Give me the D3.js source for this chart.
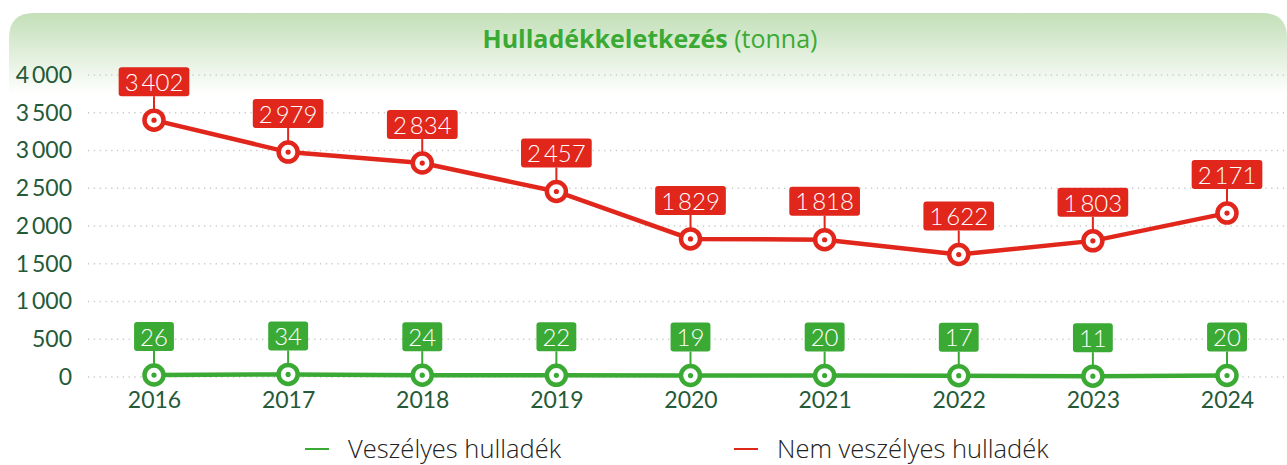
<!DOCTYPE html>
<html lang="hu">
<head>
  <meta charset="UTF-8">
  <title>Hulladékkeletkezés</title>
  <script src="https://d3js.org/d3.v7.min.js"></script>
  <style>
    body { margin: 0; padding: 0; background: #fff; font-family: Lato, "Open Sans", sans-serif; }
  </style>
</head>
<body>
  <svg id="chart" width="1287" height="465"></svg>
  <script>
    const years = ["2016", "2017", "2018", "2019", "2020", "2021", "2022", "2023", "2024"];
    const veszelyes = [26, 34, 24, 22, 19, 20, 17, 11, 20];
    const nemVeszelyes = [3402, 2979, 2834, 2457, 1829, 1818, 1622, 1803, 2171];
    const yTicks = [0, 500, 1000, 1500, 2000, 2500, 3000, 3500, 4000];

    const width = 1287, height = 465;
    const red = "#e1261c", green = "#3aaa35";
    const svg = d3.select("#chart");

    const fmt = d3.formatLocale({ thousands: "\u2009", grouping: [3], decimal: ",", currency: ["", ""] }).format(",d");

    // panel background
    const defs = svg.append("defs");
    const grad = defs.append("linearGradient").attr("id", "bg")
      .attr("x1", 0).attr("x2", 0).attr("y1", 0).attr("y2", 1);
    grad.append("stop").attr("offset", "0%").attr("stop-color", "#c3dfb8");
    grad.append("stop").attr("offset", "18%").attr("stop-color", "#ffffff");
    grad.append("stop").attr("offset", "100%").attr("stop-color", "#ffffff");

    svg.append("path")
      .attr("d", "M9,420 L9,38 Q9,13 34,13 L1262,13 Q1287,13 1287,38 L1287,465 L9,465 Z")
      .attr("fill", "url(#bg)");

    const x = d3.scalePoint().domain(years).range([154, 1227]);
    const y = d3.scaleLinear().domain([0, 4000]).range([377, 75]);

    // title
    const title = svg.append("text")
      .attr("x", 650).attr("y", 48)
      .attr("text-anchor", "middle")
      .attr("font-family", "'Open Sans', sans-serif")
      .attr("font-size", 25)
      .attr("fill", green);
    title.append("tspan").attr("font-weight", "bold").text("Hulladékkeletkezés");
    title.append("tspan").text(" (tonna)");

    // grid
    svg.append("g").selectAll("line").data(yTicks).join("line")
      .attr("x1", 88).attr("x2", 1287)
      .attr("y1", d => y(d)).attr("y2", d => y(d))
      .attr("stroke", "#c8ccc8")
      .attr("stroke-width", 1.3)
      .attr("stroke-dasharray", "1.3,4.5");

    // y axis
    const yAxis = svg.append("g")
      .attr("transform", "translate(72,0)")
      .call(d3.axisLeft(y).tickValues(yTicks).tickSize(0).tickPadding(0).tickFormat(fmt));
    yAxis.select(".domain").remove();
    yAxis.selectAll("text")
      .attr("font-family", "Lato, 'Open Sans', sans-serif")
      .attr("font-size", 23)
      .attr("fill", "#245a38");

    // x axis
    const xAxis = svg.append("g")
      .attr("transform", "translate(0,392)")
      .call(d3.axisBottom(x).tickSize(0).tickPadding(0));
    xAxis.select(".domain").remove();
    xAxis.selectAll("text")
      .attr("font-family", "Lato, 'Open Sans', sans-serif")
      .attr("font-size", 23)
      .attr("fill", "#245a38");

    const line = d3.line().x((d, i) => x(years[i])).y(d => y(d));

    function drawSeries(values, color) {
      const g = svg.append("g");
      g.append("path")
        .datum(values)
        .attr("d", line)
        .attr("fill", "none")
        .attr("stroke", color)
        .attr("stroke-width", 4.5);

      const pt = g.selectAll(".pt").data(values).join("g")
        .attr("transform", (d, i) => `translate(${x(years[i])},${y(d)})`);

      pt.append("line")
        .attr("x1", 0).attr("x2", 0).attr("y1", -10).attr("y2", -24)
        .attr("stroke", color).attr("stroke-width", 2);
      pt.append("circle").attr("r", 9.5)
        .attr("fill", "#fff").attr("stroke", color).attr("stroke-width", 4.5);
      pt.append("circle").attr("r", 2.6).attr("fill", color);

      const lbl = pt.append("g").attr("transform", "translate(0,-38)");
      const txt = lbl.append("text")
        .attr("text-anchor", "middle")
        .attr("dy", "0.36em")
        .attr("font-size", 24)
        .attr("font-weight", 300)
        .attr("fill", "#fff")
        .text(d => fmt(d));
      txt.each(function () {
        const b = this.getBBox();
        d3.select(this.parentNode).insert("rect", "text")
          .attr("x", b.x - 6).attr("y", -15)
          .attr("width", b.width + 12).attr("height", 29)
          .attr("rx", 3)
          .attr("fill", color);
      });
    }

    drawSeries(nemVeszelyes, red);
    drawSeries(veszelyes, green);

    // legend
    const legend = [
      { name: "Veszélyes hulladék", color: green, x: 305 },
      { name: "Nem veszélyes hulladék", color: red, x: 734 }
    ];
    const lg = svg.append("g").selectAll("g").data(legend).join("g")
      .attr("transform", d => `translate(${d.x},449)`);
    lg.append("line").attr("x1", 0).attr("x2", 24).attr("y1", 0).attr("y2", 0)
      .attr("stroke", d => d.color).attr("stroke-width", 2);
    lg.append("text").attr("x", 43).attr("dy", "0.35em")
      .attr("font-family", "'Open Sans', sans-serif")
      .attr("font-weight", 300)
      .attr("font-size", 25.5).attr("fill", "#222")
      .text(d => d.name);
  </script>
</body>
</html>
